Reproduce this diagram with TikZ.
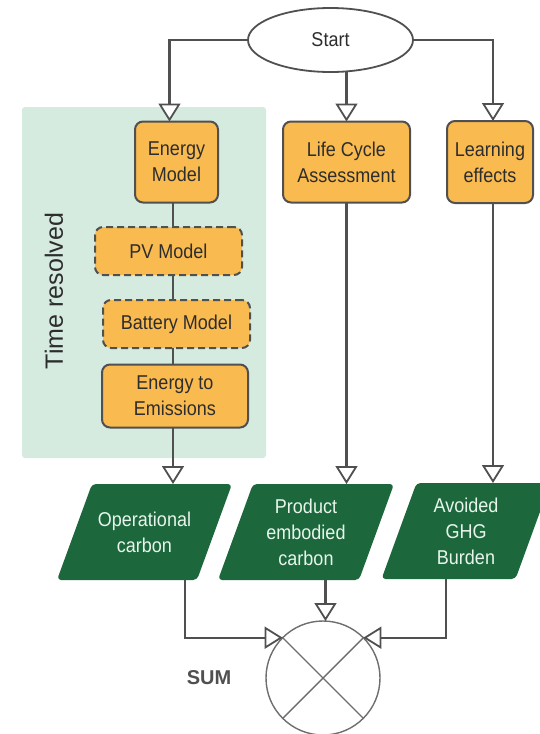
\documentclass[tikz,border=0pt]{standalone}
\usepackage{fontspec}
\setmainfont{Liberation Sans}[FakeStretch=0.9]
\newfontfamily\widefont{Liberation Sans}
\usetikzlibrary{arrows.meta,shapes.geometric,calc,backgrounds}
\definecolor{boxorange}{RGB}{249,186,79}
\definecolor{edgegray}{RGB}{80,80,80}
\definecolor{mint}{RGB}{213,235,223}
\definecolor{dgreen}{RGB}{28,104,60}
\definecolor{pale}{RGB}{232,245,236}
\definecolor{txt}{RGB}{45,45,45}
\definecolor{circgray}{RGB}{110,110,110}
\begin{document}
\begin{tikzpicture}[x=1pt,y=-1pt,
  every node/.style={font=\fontsize{20}{26}\selectfont, text=txt, align=center, inner sep=0pt, outer sep=0pt},
  proc/.style={draw=edgegray, line width=2pt, fill=boxorange, rounded corners=8pt},
  optproc/.style={proc, dash pattern=on 7pt off 4pt},
  para/.style={minimum height=96pt, text=pale},
  arr/.style={draw=edgegray, line width=2.2pt, -{Triangle[length=18pt,width=22pt,fill=white,line width=1.8pt]}},
  link/.style={draw=edgegray, line width=2.2pt}]
\clip (0,0) rectangle (540,734);

\node[rotate=90, font=\widefont\fontsize{25}{30}\selectfont] (tr) at (54,291) {Time resolved};

\node[ellipse, draw=edgegray, line width=1.8pt, fill=white, minimum width=165pt, minimum height=64pt] (start) at (330.5,40) {Start};

\node[proc, minimum width=83pt, minimum height=81pt] (em) at (176.5,162) {Energy\\Model};
\node[proc, minimum width=127pt, minimum height=81pt] (lca) at (346.5,162) {Life Cycle\\Assessment};
\node[proc, minimum width=86pt, minimum height=82pt] (le) at (490,162) {Learning\\effects};
\node[optproc, minimum width=147pt, minimum height=48pt] (pv) at (168.5,251) {PV Model};
\node[optproc, minimum width=147pt, minimum height=48pt] (bat) at (176.5,324) {Battery Model};
\node[proc, minimum width=146pt, minimum height=63pt] (e2e) at (175,396) {Energy to\\Emissions};

\node[para, minimum width=140pt] (op) at (144.5,532) {Operational\\carbon};
\node[para, minimum width=141pt] (prod) at (306,532) {Product\\embodied\\carbon};
\node[para, minimum width=134pt] (av) at (466,531) {Avoided\\GHG\\Burden};

\node[circle, draw=circgray, line width=1.4pt, minimum size=114pt] (sum) at (323,678) {};
\draw[circgray, line width=1.4pt] (sum.north west) -- (sum.south east);
\draw[circgray, line width=1.4pt] (sum.north east) -- (sum.south west);
\node[font=\widefont\bfseries\fontsize{20}{24}\selectfont, text=edgegray] (sumlbl) at (209,678) {SUM};

\begin{scope}[on background layer]
  \fill[white] (0,0) rectangle (540,734);
  \fill[mint, rounded corners=3pt] (22,107) rectangle (266,458);
  \foreach \n in {op,prod,av}{
    \fill[dgreen, rounded corners=4pt] ([xshift=-17.5pt]\n.south west) -- ([xshift=-17.5pt]\n.south east)
      -- ([xshift=17.5pt]\n.north east) -- ([xshift=17.5pt]\n.north west) -- cycle;
  }
\end{scope}

% start connections
\draw[arr] (start.west) -| ([xshift=-7pt]em.north);
\draw[arr] (start.south -| lca.north) -- (lca.north);
\draw[arr] (start.east) -| ([xshift=3pt]le.north);

% time resolved chain
\coordinate (colx) at (173,0);
\draw[link] (colx |- em.south) -- (colx |- pv.north);
\draw[link] (colx |- pv.south) -- (colx |- bat.north);
\draw[link] (colx |- bat.south) -- (colx |- e2e.north);
\draw[arr] (colx |- e2e.south) -- (colx |- op.north);

\draw[arr] (lca.south) -- (lca.south |- prod.north);
\draw[arr] ([xshift=3pt]le.south) -- ([xshift=3pt]le.south |- av.north);

% to sum
\draw[arr] ([xshift=40.5pt]op.south) |- (sum.north west);
\draw[arr] ([xshift=19.5pt]prod.south) -- ([xshift=19.5pt]prod.south |- sum.north);
\draw[arr] ([xshift=-20pt]av.south) |- (sum.north east);
\end{tikzpicture}
\end{document}
